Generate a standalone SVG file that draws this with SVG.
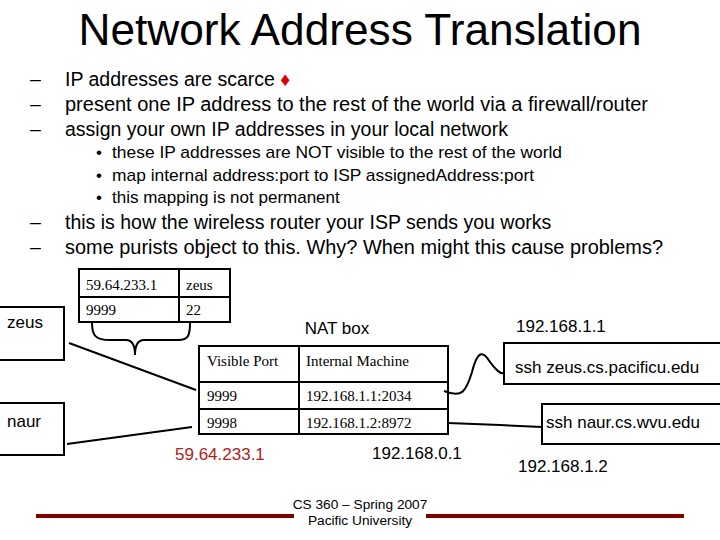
<svg xmlns="http://www.w3.org/2000/svg" width="720" height="540" viewBox="0 0 720 540">
<style>
.s{font-family:"Liberation Sans",Arial,sans-serif;fill:#000}
.t{font-family:"Liberation Serif","Times New Roman",serif;font-size:15px;fill:#000}
.b{fill:#fff;stroke:#000;stroke-width:2}
.l{fill:none;stroke:#000;stroke-width:2}
.m{font-size:19.5px}
.n{font-size:17px}
</style>
<rect width="720" height="540" fill="#fff"/>
<text class="s" x="360" y="45" font-size="44" text-anchor="middle" textLength="563" lengthAdjust="spacingAndGlyphs">Network Address Translation</text>
<g class="s m">
<text x="30" y="86">–</text><text x="65" y="86">IP addresses are scarce <tspan fill="#d00">♦</tspan></text>
<text x="30" y="111">–</text><text x="65" y="111" textLength="583" lengthAdjust="spacingAndGlyphs">present one IP address to the rest of the world via a firewall/router</text>
<text x="30" y="136">–</text><text x="65" y="136">assign your own IP addresses in your local network</text>
<text x="30" y="229">–</text><text x="65" y="229">this is how the wireless router your ISP sends you works</text>
<text x="30" y="254">–</text><text x="65" y="254" textLength="598" lengthAdjust="spacingAndGlyphs">some purists object to this. Why? When might this cause problems?</text>
</g>
<g class="s n">
<text x="96" y="158">•</text><text x="112" y="158" textLength="450" lengthAdjust="spacingAndGlyphs">these IP addresses are NOT visible to the rest of the world</text>
<text x="96" y="181">•</text><text x="112" y="181" textLength="422" lengthAdjust="spacingAndGlyphs">map internal address:port to ISP assignedAddress:port</text>
<text x="96" y="203">•</text><text x="112" y="203">this mapping is not permanent</text>
</g>
<g id="zeus"><rect class="b" x="-2" y="307" width="66" height="53"/><text class="s n" x="7" y="328">zeus</text></g>
<g id="naur"><rect class="b" x="-2" y="403" width="66" height="52"/><text class="s n" x="7" y="427">naur</text></g>
<g id="mapping">
<rect class="b" x="79" y="269" width="151" height="53"/>
<line class="l" x1="79" y1="297" x2="230" y2="297"/><line class="l" x1="179" y1="269" x2="179" y2="322"/>
<text class="t" x="86" y="290" fill="#a02020">59.64.233.1</text><text class="t" x="186" y="290">zeus</text>
<text class="t" x="86" y="315" fill="#303080">9999</text><text class="t" x="186" y="315">22</text>
</g>
<g id="natbox">
<text class="s n" x="337" y="334" text-anchor="middle">NAT box</text>
<rect class="b" x="199" y="346" width="249" height="88"/>
<line class="l" x1="199" y1="382" x2="448" y2="382"/><line class="l" x1="199" y1="409" x2="448" y2="409"/>
<line class="l" x1="299" y1="346" x2="299" y2="434"/>
<text class="t" x="207" y="366">Visible Port</text><text class="t" x="306" y="366">Internal Machine</text>
<text class="t" x="207" y="401" fill="#303080">9999</text><text class="t" x="306" y="401">192.168.1.1:2034</text>
<text class="t" x="207" y="428">9998</text><text class="t" x="306" y="428">192.168.1.2:8972</text>
</g>
<g id="sshzeus"><rect class="b" x="504" y="343" width="220" height="41"/><text class="s n" x="515" y="373">ssh zeus.cs.pacificu.edu</text></g>
<g id="sshnaur"><rect class="b" x="542" y="404" width="182" height="40"/><text class="s n" x="546" y="428">ssh naur.cs.wvu.edu</text></g>
<g class="s n">
<text x="516" y="332">192.168.1.1</text>
<text x="518" y="472">192.168.1.2</text>
<text x="372" y="459">192.168.0.1</text>
<text x="175" y="460" fill="#b02020">59.64.233.1</text>
</g>
<g id="connectors">
<line class="l" x1="69" y1="343" x2="196" y2="390"/>
<line class="l" x1="67" y1="444" x2="192" y2="427"/>
<path class="l" d="M444 391 C462 398 466 392 472 372 C478 348 484 352 490 362 C496 370 500 374 504 373"/>
<path class="l" d="M448 423 L500 425 L542 427"/>
<path class="l" stroke-width="1.5" d="M92 323 C92 336 96 340 110 340 L126 340 C132 340 135 345 135 355 C135 345 138 340 144 340 L178 340 C188 340 190 336 190 323"/>
</g>
<g id="footer">
<line x1="36" y1="516" x2="294" y2="516" stroke="#800000" stroke-width="4"/>
<line x1="426" y1="516" x2="684" y2="516" stroke="#800000" stroke-width="4"/>
<text class="s" x="360" y="509" font-size="13.7" text-anchor="middle">CS 360 – Spring 2007</text>
<text class="s" x="360" y="525" font-size="13.7" text-anchor="middle">Pacific University</text>
</g>
</svg>
